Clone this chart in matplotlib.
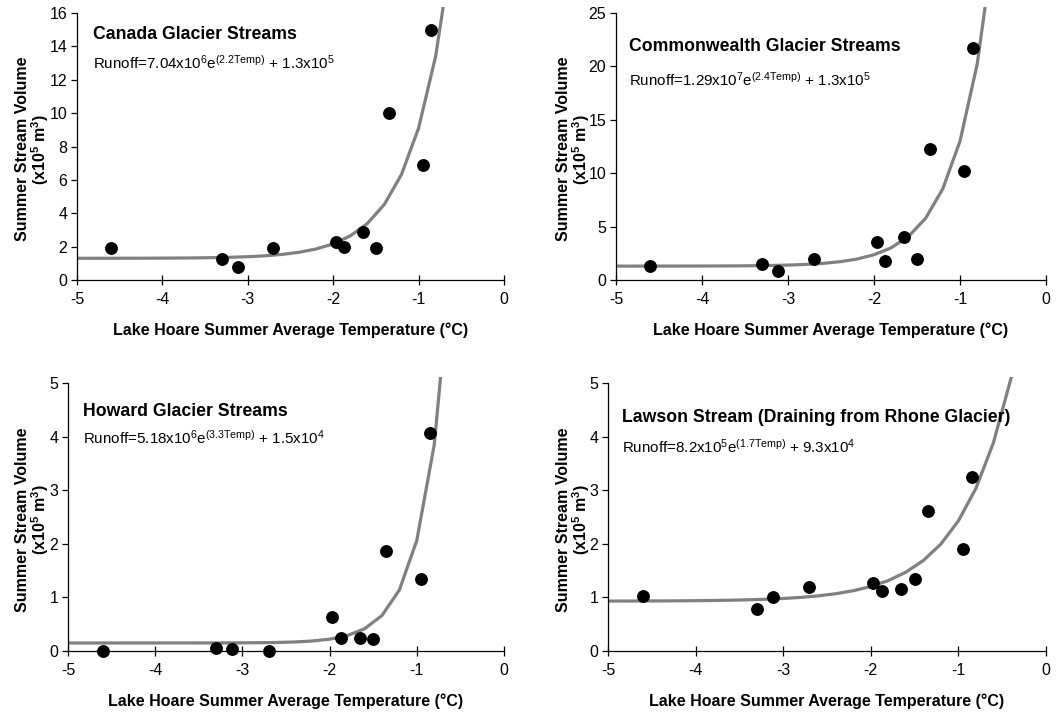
import matplotlib.pyplot as plt
import numpy as np
from matplotlib.patches import Rectangle

plt.rcParams['font.family'] = ['Liberation Sans', 'DejaVu Sans']
plt.rcParams['axes.unicode_minus'] = False
plt.rcParams['mathtext.fontset'] = 'custom'
plt.rcParams['mathtext.rm'] = 'Liberation Sans'
plt.rcParams['mathtext.it'] = 'Liberation Sans'
plt.rcParams['mathtext.bf'] = 'Liberation Sans:bold'

# Lake Hoare summer average temperature (deg C), shared by all panels
temp = [-4.6, -3.3, -3.12, -2.7, -1.97, -1.87, -1.65, -1.5, -1.35, -0.95, -0.85]

# Summer stream volume (x10^5 m^3)
canada = [1.9, 1.25, 0.8, 1.9, 2.3, 2.0, 2.9, 1.9, 10.0, 6.9, 15.0]
commonwealth = [1.3, 1.5, 0.85, 1.95, 3.6, 1.8, 4.0, 1.95, 12.3, 10.2, 21.7]
howard = [0.0, 0.05, 0.03, 0.0, 0.63, 0.25, 0.25, 0.23, 1.87, 1.35, 4.07]
lawson = [1.02, 0.78, 1.0, 1.2, 1.27, 1.12, 1.15, 1.35, 2.62, 1.9, 3.25]

# fitted runoff = a*exp(b*Temp) + c  (a, c in x10^5 m^3)
fit_a = [70.4, 129.0, 51.8, 8.2]
fit_b = [2.2, 2.4, 3.3, 1.7]
fit_c = [1.3, 1.3, 0.15, 0.93]

titles = ["Canada Glacier Streams", "Commonwealth Glacier Streams",
          "Howard Glacier Streams", "Lawson Stream (Draining from Rhone Glacier)"]
equations = [r"Runoff=7.04x10$^{6}$e$^{(2.2Temp)}$ + 1.3x10$^{5}$",
             r"Runoff=1.29x10$^{7}$e$^{(2.4Temp)}$ + 1.3x10$^{5}$",
             r"Runoff=5.18x10$^{6}$e$^{(3.3Temp)}$ + 1.5x10$^{4}$",
             r"Runoff=8.2x10$^{5}$e$^{(1.7Temp)}$ + 9.3x10$^{4}$"]
ymax = [16, 25, 5, 5]
ystep = [2, 5, 1, 1]

series = [canada, commonwealth, howard, lawson]

# axes boxes in figure fractions
boxes = [(0.0728, 0.6084, 0.404, 0.3734),
         (0.5828, 0.6084, 0.4068, 0.3734),
         (0.0643, 0.0895, 0.4125, 0.3748),
         (0.5752, 0.0895, 0.4144, 0.3748)]
title_pos = [(0.037, 0.918, 0.813), (0.03, 0.873, 0.75),
             (0.034, 0.892, 0.795), (0.032, 0.873, 0.761)]
ylab_x = [-0.06, -0.055, -0.038, -0.036]

fig = plt.figure(figsize=(10.57, 7.15), dpi=100)

for i in range(4):
    ax = fig.add_axes(boxes[i])
    # trendline drawn like the spreadsheet: coarse 0.2-degree segments
    t = np.linspace(-5.0, 0.0, 26)
    curve = fit_a[i] * np.exp(fit_b[i] * t) + fit_c[i]
    line, = ax.plot(t, curve, color="#808080", linewidth=2.3, zorder=2)
    clip = Rectangle((0, 0), 1, 1.022, transform=ax.transAxes, visible=False)
    ax.add_patch(clip)
    line.set_clip_path(clip)

    ax.scatter(temp, series[i], s=68, color="black", zorder=3, clip_on=False)

    ax.set_xlim(-5, 0)
    ax.set_ylim(0, ymax[i])
    ax.set_xticks(range(-5, 1))
    yt = np.arange(0, ymax[i] + 0.1, ystep[i])
    ax.set_yticks(yt)
    ax.set_yticklabels([f"{v:g}" for v in yt])
    for s in ("top", "right"):
        ax.spines[s].set_visible(False)
    for s in ("left", "bottom"):
        ax.spines[s].set_linewidth(0.9)
    ax.tick_params(axis="x", direction="inout", length=7, width=0.9,
                   labelsize=11.5, pad=5)
    ax.tick_params(axis="y", direction="out", length=4, width=0.9,
                   labelsize=11.5, pad=3)

    ax.set_xlabel("Lake Hoare Summer Average Temperature (\u00b0C)",
                  fontsize=11.5, fontweight="bold", va="top")
    ax.xaxis.set_label_coords(0.5, -0.16)
    ax.set_ylabel("Summer Stream Volume\n(x10$^{\\mathbf{5}}$ m$^{\\mathbf{3}}$)",
                  fontsize=11.5, fontweight="bold", linespacing=1.0)
    ax.yaxis.set_label_coords(ylab_x[i], 0.49)

    tx, ty, ey = title_pos[i]
    ax.text(tx, ty, titles[i], transform=ax.transAxes, fontsize=12.7,
            fontweight="bold", va="center", ha="left")
    ax.text(tx, ey, equations[i], transform=ax.transAxes, fontsize=10.9,
            va="center", ha="left")

fig.savefig("out.png", dpi=100)
